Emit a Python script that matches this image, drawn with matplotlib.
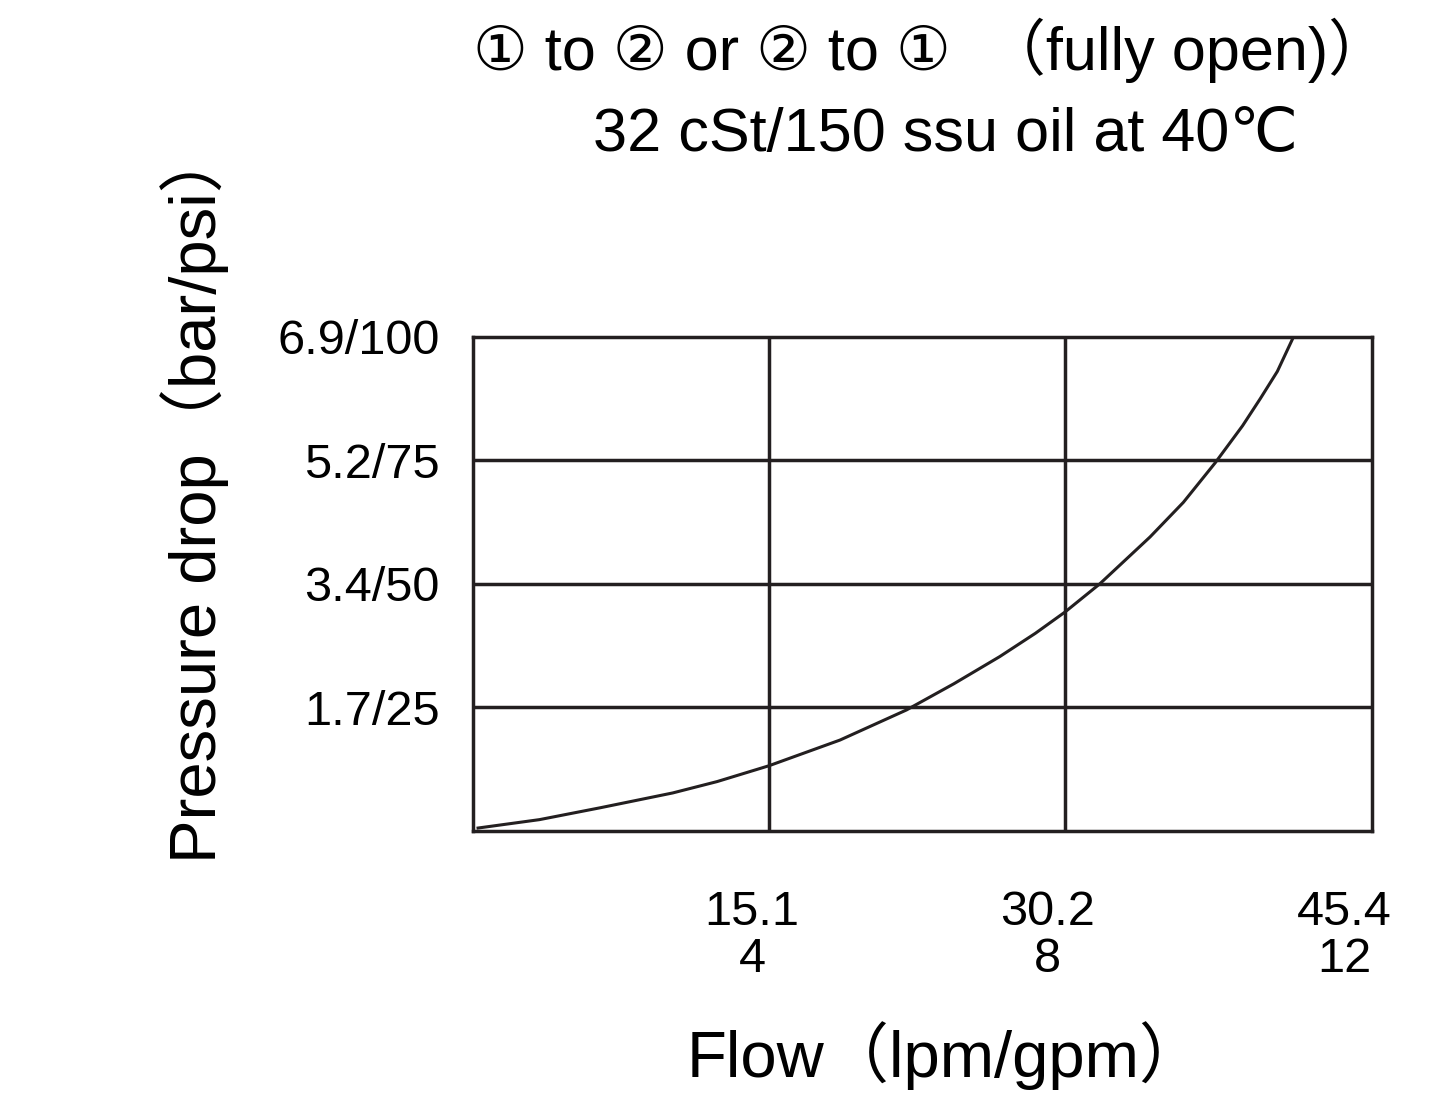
import numpy as np
import matplotlib.pyplot as plt

plt.rcParams['font.family'] = ['Liberation Sans', 'DejaVu Sans', 'Noto Sans CJK SC']

# curve (x in gpm, y in psi)
flow_gpm = [0.07, 0.9, 1.72, 2.7, 3.3, 4.0, 4.96, 5.86, 6.5, 7.12, 7.6, 8.0, 8.47,
            9.15, 9.6, 10.03, 10.4, 10.64, 10.87, 11.07]
drop_psi = [0.6, 2.3, 4.7, 7.7, 10.0, 13.2, 18.4, 24.5, 29.8, 35.3, 40.0, 44.3, 50.0,
            59.5, 66.5, 74.5, 82.0, 87.5, 93.0, 99.4]

y_ticks = [25, 50, 75, 100]
y_labels = ['1.7/25', '3.4/50', '5.2/75', '6.9/100']
x_ticks = [4, 8, 12]
x_labels = ['15.1\n4', '30.2\n8', '45.4\n12']

fig = plt.figure(figsize=(14.55, 11.08), dpi=100)
ax = fig.add_axes([0.325, 0.25, 0.618, 0.446])
ax.plot(flow_gpm, drop_psi, color='#231f20', lw=2.2)
ax.set_xlim(0, 12.15)
ax.set_ylim(0, 100)
for v in [4, 8]:
    ax.axvline(v, color='#231f20', lw=2.5)
for v in [25, 50, 75]:
    ax.axhline(v, color='#231f20', lw=2.5)
for s in ax.spines.values():
    s.set_linewidth(2.5)
    s.set_color('#231f20')
ax.set_yticks(y_ticks)
ax.set_yticklabels(y_labels, fontsize=35)
ax.tick_params(axis='y', length=0, pad=24)
ax.set_xticks([])
for v, lab in zip(x_ticks, x_labels):
    ax.text(v - 0.23, -12, lab, ha='center', va='top', fontsize=35, linespacing=1.05)

fig.text(0.64, 0.955, '① to ② or ② to ①  （fully open)）', ha='center', va='center', fontsize=44)
fig.text(0.65, 0.878, '32 cSt/150 ssu oil at 40℃', ha='center', va='center', fontsize=44)
fig.text(0.134, 0.553, 'Pressure drop（bar/psi）', rotation=90, ha='center', va='center', fontsize=47)
fig.text(0.65, 0.047, 'Flow（lpm/gpm）', ha='center', va='center', fontsize=47)

fig.savefig('out.png', dpi=100)
